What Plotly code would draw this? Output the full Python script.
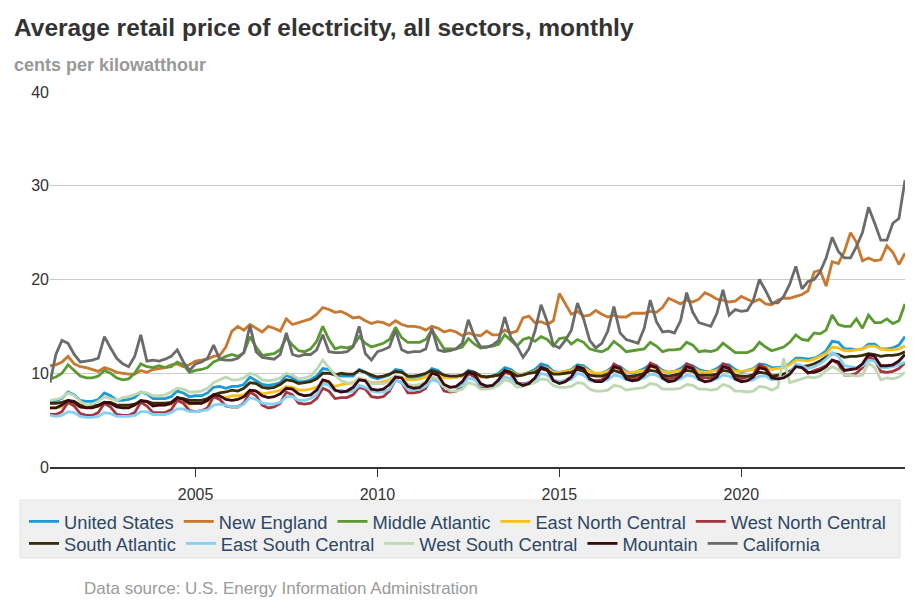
# Average retail price of electricity, all sectors (bimonthly readings)
import plotly.graph_objects as go

# sample months: Jan, Mar, May, Jul, Sep, Nov for 2001-2023, Jan-Jul for 2024
years = list(range(2001, 2025))
months = [1, 3, 5, 7, 9, 11]
dates = []
for yr in years:
    for m in months:
        if yr == 2024 and m > 7:
            break
        dates.append(f"{yr}-{m:02d}-01")

# cents per kWh, one row per year
united_states = [
    [7.0, 7.1, 7.3, 8.0, 7.7, 7.1], [7.0, 7.0, 7.2, 7.9, 7.6, 7.1],
    [7.1, 7.2, 7.4, 8.0, 7.8, 7.3], [7.3, 7.3, 7.5, 8.1, 7.9, 7.5],
    [7.6, 7.6, 7.9, 8.5, 8.6, 8.4], [8.6, 8.6, 8.8, 9.6, 9.2, 8.8],
    [8.7, 8.8, 9.0, 9.8, 9.5, 9.1], [9.1, 9.3, 9.7, 10.5, 10.4, 9.9],
    [9.7, 9.7, 9.7, 10.4, 10.1, 9.6], [9.4, 9.6, 9.8, 10.4, 10.3, 9.6],
    [9.4, 9.6, 9.9, 10.5, 10.3, 9.7], [9.6, 9.6, 9.7, 10.3, 10.1, 9.7],
    [9.6, 9.7, 10.0, 10.6, 10.4, 9.9], [9.9, 10.1, 10.4, 11.0, 10.8, 10.2],
    [10.1, 10.2, 10.4, 10.9, 10.8, 10.3], [9.9, 10.0, 10.3, 10.8, 10.7, 10.2],
    [10.0, 10.2, 10.5, 10.9, 10.8, 10.3], [10.1, 10.2, 10.5, 11.0, 10.8, 10.4],
    [10.2, 10.2, 10.5, 11.0, 10.9, 10.4], [10.1, 10.3, 10.5, 11.0, 10.9, 10.6],
    [10.6, 10.7, 11.0, 11.6, 11.6, 11.5], [11.6, 11.9, 12.4, 13.4, 13.3, 12.6],
    [12.6, 12.5, 12.6, 13.1, 13.1, 12.6], [12.6, 12.7, 13.0, 13.9],
]
new_england = [
    [10.8, 10.9, 11.2, 11.8, 11.0, 10.7], [10.6, 10.4, 10.2, 10.6, 10.4, 10.1],
    [10.0, 9.9, 9.9, 10.3, 10.1, 10.4], [10.5, 10.6, 10.9, 11.0, 10.7, 10.9],
    [11.3, 11.4, 11.5, 11.8, 11.9, 12.8], [14.5, 15.0, 14.6, 15.2, 14.8, 14.4],
    [15.0, 14.8, 14.5, 15.8, 15.2, 15.4], [15.6, 15.8, 16.3, 17.0, 16.8, 16.5],
    [16.6, 16.3, 15.9, 16.0, 15.6, 15.3], [15.5, 15.4, 15.1, 15.6, 15.2, 15.0],
    [15.0, 14.9, 14.6, 15.0, 14.8, 14.4], [14.6, 14.4, 14.0, 14.3, 14.1, 14.0],
    [14.5, 14.1, 14.1, 14.6, 14.3, 14.5], [15.9, 16.1, 15.4, 15.5, 15.2, 15.6],
    [18.5, 17.4, 16.3, 16.6, 16.1, 16.2], [16.7, 16.3, 16.0, 16.2, 16.0, 16.0],
    [16.4, 16.4, 16.4, 16.6, 16.5, 17.0], [18.0, 17.7, 17.4, 17.8, 17.6, 17.9],
    [18.6, 18.3, 17.9, 17.8, 17.6, 17.7], [18.2, 17.9, 17.6, 17.9, 17.4, 17.3],
    [17.8, 18.0, 18.0, 18.2, 18.4, 18.8], [20.8, 21.0, 19.3, 21.9, 21.7, 23.0],
    [25.0, 24.0, 22.0, 22.3, 22.0, 22.1], [23.6, 22.9, 21.6, 22.8],
]
middle_atlantic = [
    [9.4, 9.6, 10.0, 10.9, 10.3, 9.7], [9.5, 9.5, 9.7, 10.3, 10.0, 9.5],
    [9.3, 9.4, 10.0, 11.0, 10.7, 10.6], [10.8, 10.6, 10.7, 11.2, 10.9, 10.1],
    [10.3, 10.4, 10.6, 11.2, 11.5, 11.8], [12.0, 11.8, 12.2, 13.9, 12.8, 11.9],
    [12.0, 12.1, 12.5, 13.8, 13.0, 12.4], [12.3, 12.6, 13.4, 15.0, 13.6, 12.6],
    [12.8, 12.7, 12.9, 13.9, 13.2, 12.8], [13.0, 13.2, 13.6, 14.9, 13.8, 13.3],
    [13.3, 13.3, 13.6, 14.6, 13.6, 12.6], [12.6, 12.6, 12.8, 13.7, 13.1, 12.7],
    [12.8, 12.9, 13.1, 14.1, 13.5, 12.9], [13.6, 13.8, 13.4, 13.9, 13.6, 12.9],
    [13.7, 13.8, 13.1, 13.6, 13.3, 12.6], [12.4, 12.3, 12.6, 13.4, 12.9, 12.3],
    [12.4, 12.5, 12.6, 13.3, 12.9, 12.3], [12.5, 12.5, 12.6, 13.3, 13.0, 12.3],
    [12.4, 12.3, 12.5, 13.2, 12.7, 12.2], [12.2, 12.2, 12.5, 13.3, 12.8, 12.4],
    [12.6, 12.8, 13.3, 14.1, 13.6, 13.5], [14.3, 14.2, 14.6, 16.2, 15.2, 15.0],
    [15.0, 15.8, 14.8, 16.2, 15.4, 15.4], [15.8, 15.3, 15.6, 17.4],
]
east_north_central = [
    [6.3, 6.3, 6.4, 6.8, 6.7, 6.4], [6.3, 6.4, 6.5, 6.9, 6.8, 6.5],
    [6.5, 6.5, 6.6, 7.0, 6.9, 6.6], [6.6, 6.6, 6.7, 7.1, 7.0, 6.7],
    [6.8, 6.8, 7.0, 7.5, 7.5, 7.4], [7.6, 7.6, 7.7, 8.2, 8.1, 7.8],
    [7.9, 8.0, 8.2, 8.6, 8.5, 8.2], [8.2, 8.3, 8.5, 9.0, 8.9, 8.6],
    [8.8, 8.9, 9.0, 9.4, 9.3, 9.0], [9.0, 9.1, 9.3, 9.7, 9.6, 9.3],
    [9.3, 9.4, 9.6, 10.0, 9.9, 9.5], [9.5, 9.6, 9.7, 10.1, 10.0, 9.6],
    [9.6, 9.7, 9.8, 10.3, 10.2, 9.8], [9.9, 10.0, 10.2, 10.6, 10.5, 10.1],
    [10.1, 10.2, 10.3, 10.7, 10.6, 10.2], [10.0, 10.0, 10.2, 10.6, 10.5, 10.1],
    [10.1, 10.2, 10.3, 10.7, 10.6, 10.2], [10.1, 10.2, 10.3, 10.7, 10.6, 10.2],
    [10.1, 10.2, 10.3, 10.7, 10.6, 10.2], [10.2, 10.3, 10.4, 10.8, 10.7, 10.4],
    [10.5, 10.6, 10.9, 11.4, 11.4, 11.3], [11.5, 11.8, 12.1, 12.8, 12.7, 12.4],
    [12.4, 12.5, 12.6, 12.9, 12.9, 12.6], [12.5, 12.5, 12.6, 12.9],
]
west_north_central = [
    [5.6, 5.6, 5.9, 6.9, 6.5, 5.7], [5.5, 5.5, 5.8, 6.8, 6.4, 5.6],
    [5.5, 5.5, 5.8, 6.9, 6.5, 5.8], [5.8, 5.8, 6.1, 7.1, 6.8, 6.0],
    [5.9, 6.0, 6.3, 7.5, 7.2, 6.5], [6.4, 6.4, 6.8, 8.0, 7.6, 6.6],
    [6.3, 6.4, 6.8, 8.0, 7.7, 6.8], [6.7, 6.8, 7.3, 8.4, 8.1, 7.3],
    [7.4, 7.4, 7.7, 8.5, 8.3, 7.5], [7.4, 7.5, 8.1, 9.3, 9.0, 7.9],
    [7.9, 8.0, 8.4, 9.6, 9.3, 8.1], [8.0, 8.1, 8.6, 10.0, 9.6, 8.5],
    [8.5, 8.6, 9.0, 10.1, 9.9, 8.9], [8.9, 9.0, 9.4, 10.7, 10.4, 9.2],
    [9.1, 9.2, 9.6, 10.7, 10.5, 9.3], [9.2, 9.3, 9.7, 11.0, 10.6, 9.5],
    [9.5, 9.5, 10.0, 11.1, 10.8, 9.6], [9.4, 9.5, 9.9, 11.0, 10.7, 9.6],
    [9.5, 9.5, 9.9, 11.0, 10.7, 9.6], [9.4, 9.6, 9.9, 10.9, 10.6, 9.7],
    [9.7, 9.9, 10.0, 10.8, 10.6, 10.0], [10.3, 10.5, 10.8, 11.4, 11.0, 9.8],
    [9.8, 10.0, 10.6, 11.7, 11.4, 10.2], [10.1, 10.2, 10.5, 11.1],
]
south_atlantic = [
    [6.8, 6.8, 6.9, 7.1, 7.0, 6.6], [6.4, 6.5, 6.6, 6.9, 6.9, 6.6],
    [6.6, 6.6, 6.7, 7.0, 7.0, 6.8], [6.8, 6.8, 6.9, 7.4, 7.3, 7.1],
    [7.1, 7.1, 7.3, 7.7, 7.9, 8.0], [8.2, 8.1, 8.4, 9.0, 8.9, 8.5],
    [8.4, 8.5, 8.8, 9.3, 9.2, 8.9], [9.0, 9.1, 9.4, 10.0, 10.0, 9.8],
    [10.0, 9.9, 9.9, 10.3, 10.1, 9.8], [9.6, 9.7, 9.9, 10.2, 10.1, 9.7],
    [9.7, 9.8, 10.0, 10.3, 10.1, 9.8], [9.7, 9.7, 9.8, 10.2, 10.1, 9.7],
    [9.6, 9.7, 9.8, 10.2, 10.1, 9.7], [9.8, 10.0, 10.1, 10.5, 10.3, 9.9],
    [9.9, 10.0, 10.1, 10.4, 10.2, 9.8], [9.7, 9.7, 9.9, 10.3, 10.1, 9.7],
    [9.7, 9.8, 10.0, 10.3, 10.2, 9.8], [9.7, 9.8, 10.0, 10.3, 10.2, 9.8],
    [9.8, 9.8, 9.9, 10.3, 10.2, 9.8], [9.7, 9.7, 9.8, 10.1, 10.0, 9.7],
    [9.8, 9.9, 10.2, 10.7, 10.7, 10.8], [11.0, 11.3, 11.7, 12.1, 12.0, 11.7],
    [11.8, 11.8, 11.9, 12.1, 12.0, 11.8], [11.9, 11.9, 12.0, 12.3],
]
east_south_central = [
    [5.5, 5.4, 5.5, 5.9, 5.8, 5.4], [5.3, 5.3, 5.4, 5.8, 5.7, 5.4],
    [5.4, 5.4, 5.5, 5.9, 5.9, 5.6], [5.6, 5.6, 5.8, 6.2, 6.2, 5.9],
    [5.9, 6.0, 6.1, 6.6, 6.7, 6.6], [6.4, 6.4, 6.7, 7.4, 7.2, 6.8],
    [6.7, 6.7, 6.9, 7.5, 7.5, 7.1], [7.1, 7.3, 7.7, 8.9, 8.7, 8.1],
    [8.2, 8.0, 8.1, 8.7, 8.5, 8.1], [8.0, 8.0, 8.3, 9.3, 9.0, 8.3],
    [8.2, 8.3, 8.6, 9.3, 9.1, 8.5], [8.5, 8.5, 8.7, 9.5, 9.3, 8.7],
    [8.7, 8.7, 8.9, 9.6, 9.4, 8.9], [8.8, 9.0, 9.2, 10.0, 9.8, 9.2],
    [9.1, 9.2, 9.3, 10.0, 9.8, 9.2], [9.1, 9.1, 9.3, 9.8, 9.7, 9.3],
    [9.2, 9.3, 9.5, 9.9, 9.8, 9.4], [9.1, 9.2, 9.4, 9.8, 9.7, 9.3],
    [9.1, 9.2, 9.4, 9.8, 9.7, 9.3], [9.1, 9.2, 9.3, 9.7, 9.7, 9.3],
    [9.4, 9.6, 10.0, 11.0, 10.8, 10.5], [10.7, 11.0, 11.5, 12.2, 11.8, 10.8],
    [10.7, 10.6, 10.8, 11.4, 11.3, 10.6], [10.6, 10.7, 10.9, 11.2],
]
west_south_central = [
    [7.1, 7.2, 7.4, 7.9, 7.6, 7.0], [6.6, 6.7, 7.0, 7.5, 7.3, 7.1],
    [7.4, 7.5, 7.7, 8.0, 7.9, 7.6], [7.6, 7.7, 8.0, 8.4, 8.3, 8.0],
    [8.0, 8.1, 8.4, 9.0, 9.3, 9.6], [9.3, 9.3, 9.5, 10.0, 9.8, 9.3],
    [9.2, 9.3, 9.5, 10.0, 9.8, 9.4], [9.5, 9.7, 10.4, 11.4, 10.6, 9.8],
    [9.2, 9.0, 8.9, 9.5, 9.3, 8.9], [8.9, 8.9, 9.1, 9.7, 9.5, 8.8],
    [8.7, 8.8, 9.1, 9.6, 9.4, 8.6], [8.1, 8.1, 8.3, 9.0, 8.8, 8.3],
    [8.3, 8.4, 8.7, 9.3, 9.1, 8.5], [8.6, 8.8, 9.0, 9.4, 9.3, 8.7],
    [8.5, 8.5, 8.6, 9.0, 8.9, 8.3], [8.1, 8.1, 8.2, 8.7, 8.6, 8.2],
    [8.3, 8.4, 8.5, 8.9, 8.8, 8.3], [8.3, 8.3, 8.4, 8.8, 8.7, 8.3],
    [8.3, 8.2, 8.3, 8.8, 8.6, 8.1], [8.1, 8.0, 8.1, 8.6, 8.5, 8.2],
    [8.5, 11.6, 9.0, 9.2, 9.4, 9.6], [9.5, 9.7, 10.3, 10.7, 10.4, 9.8],
    [9.8, 9.7, 9.8, 11.1, 10.6, 9.3], [9.5, 9.4, 9.6, 10.1],
]
mountain = [
    [6.3, 6.3, 6.6, 7.1, 6.9, 6.4], [6.3, 6.3, 6.5, 6.9, 6.8, 6.4],
    [6.3, 6.3, 6.6, 7.1, 7.0, 6.5], [6.6, 6.6, 6.8, 7.4, 7.2, 6.8],
    [6.8, 6.8, 7.1, 7.7, 7.6, 7.2], [7.1, 7.2, 7.5, 8.2, 8.1, 7.6],
    [7.4, 7.5, 7.8, 8.4, 8.3, 7.8], [7.6, 7.7, 8.2, 9.3, 9.1, 8.2],
    [8.0, 8.1, 8.5, 9.3, 9.2, 8.3], [8.2, 8.3, 8.8, 9.6, 9.5, 8.6],
    [8.4, 8.5, 9.0, 10.0, 9.8, 8.8], [8.5, 8.6, 9.1, 10.1, 9.9, 8.9],
    [8.6, 8.7, 9.3, 10.3, 10.1, 9.0], [8.7, 8.9, 9.5, 10.6, 10.4, 9.2],
    [8.9, 9.1, 9.6, 10.7, 10.5, 9.4], [9.1, 9.1, 9.6, 10.7, 10.5, 9.4],
    [9.2, 9.3, 9.8, 10.8, 10.6, 9.5], [9.1, 9.2, 9.7, 10.7, 10.5, 9.4],
    [9.1, 9.2, 9.6, 10.7, 10.5, 9.4], [9.1, 9.2, 9.6, 10.6, 10.4, 9.5],
    [9.4, 9.5, 9.9, 10.7, 10.6, 10.1], [10.1, 10.3, 10.7, 11.4, 11.2, 10.3],
    [10.4, 10.5, 11.0, 12.0, 11.8, 10.8], [10.8, 10.9, 11.3, 12.0],
]
california = [
    [9.0, 12.0, 13.5, 13.2, 12.0, 11.2], [11.3, 11.4, 11.6, 13.9, 12.7, 11.6],
    [11.0, 10.7, 11.8, 14.1, 11.3, 11.4], [11.3, 11.5, 11.8, 12.5, 11.2, 10.3],
    [11.0, 11.2, 11.6, 13.0, 11.5, 11.4], [11.4, 11.6, 12.2, 15.1, 12.3, 11.7],
    [11.6, 11.5, 12.0, 14.3, 12.0, 11.8], [12.0, 12.0, 12.5, 14.1, 12.3, 12.2],
    [12.2, 12.3, 12.8, 15.0, 12.1, 11.4], [12.3, 12.5, 12.8, 14.6, 12.5, 12.2],
    [12.3, 12.3, 12.6, 14.8, 12.5, 12.3], [12.4, 12.6, 13.2, 15.7, 13.9, 12.8],
    [12.8, 13.0, 13.5, 16.0, 13.8, 12.9], [11.7, 12.6, 14.5, 17.3, 15.5, 13.0],
    [12.7, 13.5, 14.6, 17.5, 15.8, 13.5], [12.7, 13.2, 14.5, 17.1, 14.3, 13.6],
    [13.4, 13.2, 14.8, 17.8, 15.5, 14.4], [14.5, 14.3, 15.6, 18.6, 16.5, 15.4],
    [15.2, 15.0, 16.4, 18.9, 16.2, 16.8], [16.6, 16.7, 17.8, 20.0, 18.8, 17.5],
    [17.5, 18.2, 19.5, 21.4, 19.0, 19.8], [20.0, 20.8, 22.3, 24.5, 23.0, 22.3],
    [22.3, 23.5, 25.0, 27.7, 26.0, 24.2], [24.2, 26.0, 26.5, 30.6],
]

series = [
    ("United States", united_states, "#1b9ad6"),
    ("New England", new_england, "#c8792f"),
    ("Middle Atlantic", middle_atlantic, "#5b9a32"),
    ("East North Central", east_north_central, "#f6c11c"),
    ("West North Central", west_north_central, "#a5353f"),
    ("South Atlantic", south_atlantic, "#3b2c08"),
    ("East South Central", east_south_central, "#84d1f5"),
    ("West South Central", west_south_central, "#bed8b1"),
    ("Mountain", mountain, "#3b0a10"),
    ("California", california, "#6b6b6b"),
]

fig = go.Figure()
for i, (name, rows, color) in enumerate(series):
    vals = [v for row in rows for v in row]
    # two legends, one per row, so each row flows by text width
    fig.add_trace(go.Scatter(x=dates, y=vals, name=name, mode="lines",
                             legend="legend" if i < 5 else "legend2",
                             line=dict(color=color, width=2.8)))

font = "Liberation Sans, Arial, sans-serif"
leg = dict(orientation="h", xanchor="left", yanchor="top", bgcolor="rgba(0,0,0,0)",
           borderwidth=0, font=dict(size=18.3, color="#2d4766"), traceorder="normal")

# page has an 8px body margin, so the figure is 8px smaller each way
fig.update_layout(
    width=912, height=605,
    margin=dict(l=42, r=15, t=84, b=146),
    paper_bgcolor="white", plot_bgcolor="white",
    font=dict(family=font, size=16, color="#333333"),
    showlegend=True,
    legend=dict(leg, x=-0.0304, y=-0.096),
    legend2=dict(leg, x=-0.0304, y=-0.1547),
    xaxis=dict(range=[dates[0], dates[-1]], showgrid=False, tick0="2005-01-01", dtick="M60",
               tickformat="%Y", ticks="outside", ticklen=8, tickcolor="#333333",
               showline=True, linecolor="#333333", linewidth=2,
               ticklabelstandoff=4, tickfont=dict(size=16, color="#333333")),
    yaxis=dict(range=[0, 40], dtick=10, showgrid=True, gridcolor="#cacaca", gridwidth=1,
               zeroline=False, showline=False, ticks="",
               tickfont=dict(size=16, color="#333333")),
)

# legend background box
fig.add_shape(type="rect", xref="paper", yref="paper", x0=-0.0351, x1=0.9942,
              y0=-0.2427, y1=-0.088, fillcolor="#f0f0f0",
              line=dict(color="#e4e4e4", width=1), layer="below")

fig.add_annotation(text="<b>Average retail price of electricity, all sectors, monthly</b>",
                   xref="paper", yref="paper", x=-0.0444, y=1.1707, xanchor="left", yanchor="middle",
                   showarrow=False, font=dict(size=24.5, color="#333333"))
fig.add_annotation(text="<b>cents per kilowatthour</b>",
                   xref="paper", yref="paper", x=-0.0444, y=1.072, xanchor="left", yanchor="middle",
                   showarrow=False, font=dict(size=18, color="#999999"))
fig.add_annotation(text="Data source: U.S. Energy Information Administration",
                   xref="paper", yref="paper", x=0.0374, y=-0.3253, xanchor="left", yanchor="middle",
                   showarrow=False, font=dict(size=17, color="#9a9a9a"))

fig.write_html("out.html")
